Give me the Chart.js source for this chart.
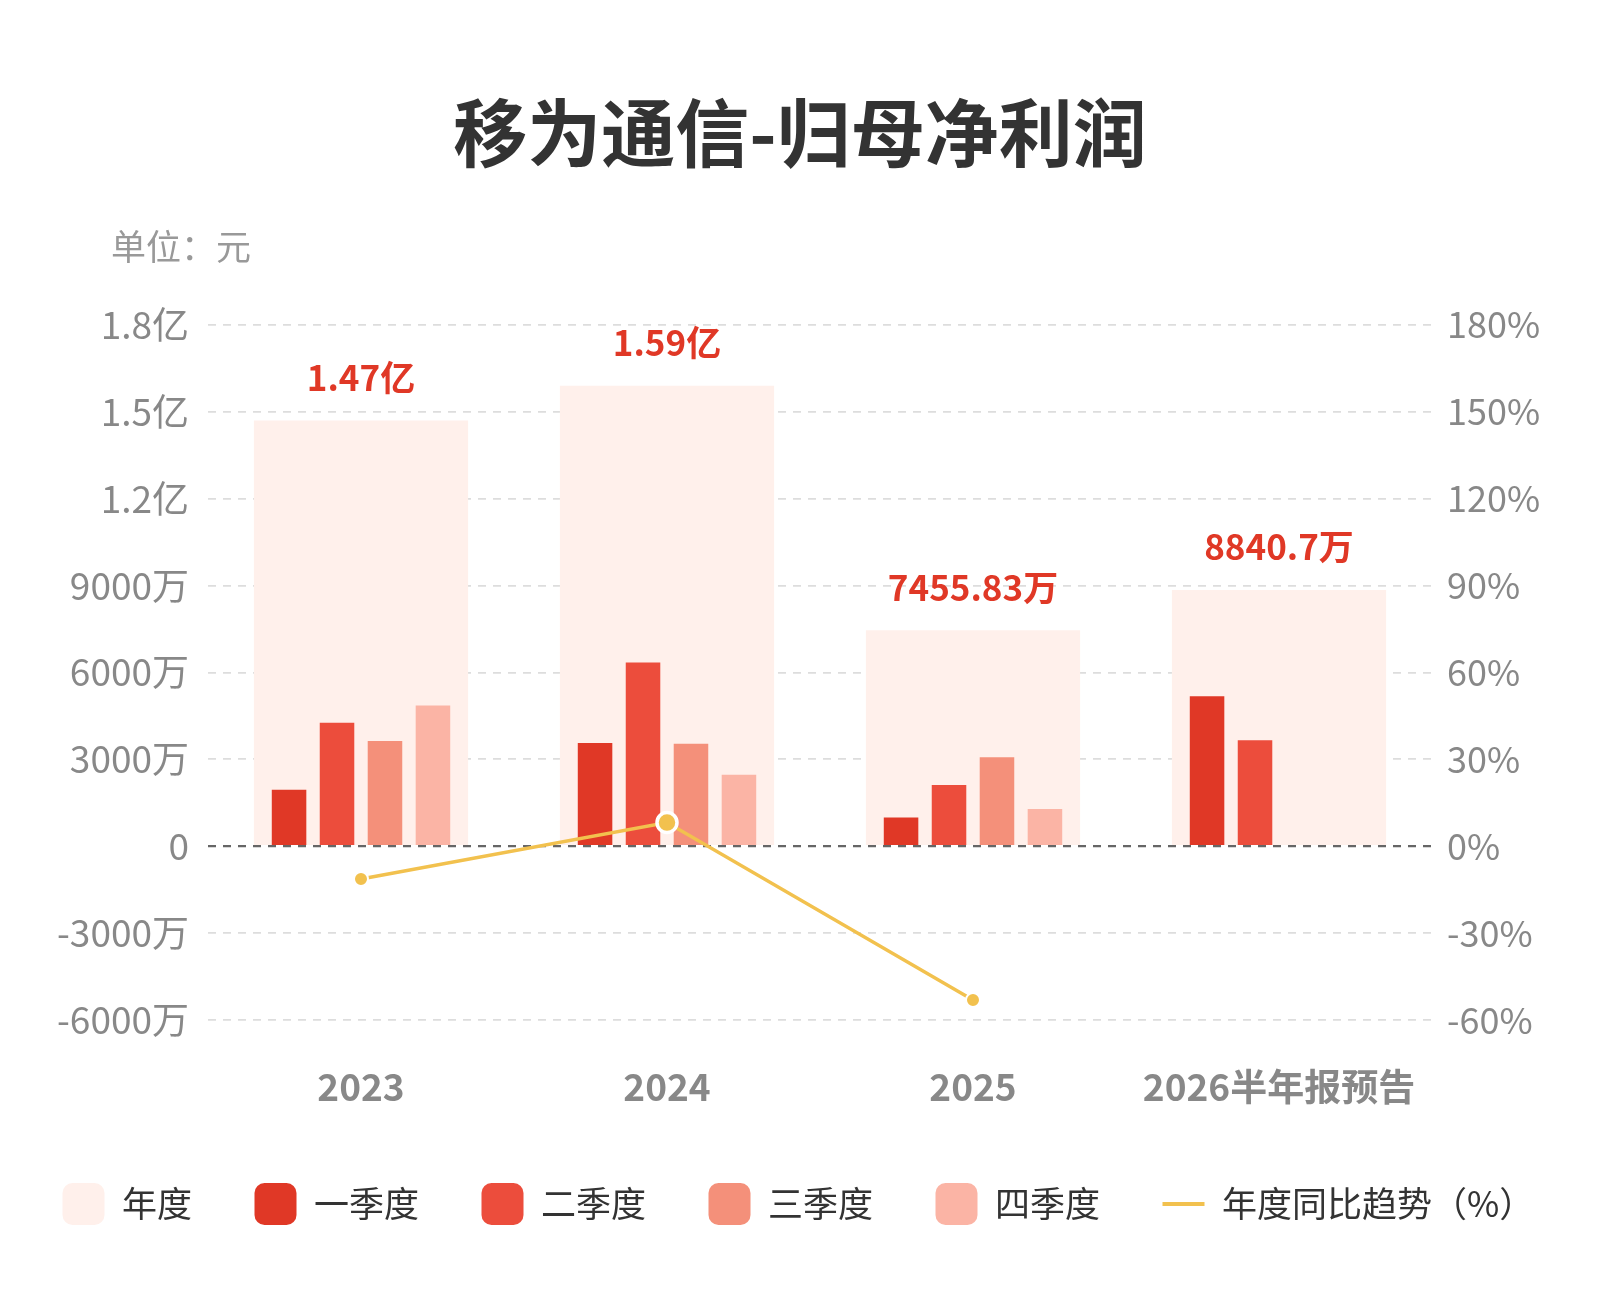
<!DOCTYPE html>
<html><head><meta charset="utf-8">
<script src="https://cdn.jsdelivr.net/npm/chart.js@4.4.1/dist/chart.umd.min.js"></script>
<style>html,body{margin:0;padding:0;background:#fff;} #wrap{width:1600px;height:1300px;position:relative;}</style>
</head><body><div id="wrap"><canvas id="c" width="1600" height="1300"></canvas></div>
<script>
// values in 万元
const categories = ['2023', '2024', '2025', '2026半年报预告'];
const annualLabels = ['1.47亿', '1.59亿', '7455.83万', '8840.7万'];
const annual = [14700, 15900, 7455.83, 8840.7];
const q1 = [1950, 3559, 990, 5180];
const q2 = [4260, 6338, 2110, 3660];
const q3 = [3630, 3534, 3070, null];
const q4 = [4860, 2469, 1286, null];
const yoy = [-11.3, 8.16, -53.1, null];
const seriesNames = ['年度', '一季度', '二季度', '三季度', '四季度', '年度同比趋势（%）'];
const leftMin = -6000, leftMax = 18000, leftStep = 3000;
const rightMin = -60, rightMax = 180, rightStep = 30;

const CJK = '"Noto Sans CJK SC", sans-serif';
const NUM = '"Noto Sans CJK SC", sans-serif';
const LINE_COLOR = '#F2C14E';

function fmtLeft(v) {
  if (v === 0) return '0';
  if (Math.abs(v) >= 10000) return (v / 10000).toFixed(1) + '亿';
  return v + '万';
}

const extras = {
  id: 'extras',
  afterDraw(chart) {
    const ctx = chart.ctx;
    ctx.save();
    ctx.font = '35px ' + CJK;
    ctx.fillStyle = '#999';
    ctx.textAlign = 'left';
    ctx.textBaseline = 'middle';
    ctx.fillText('单位：元', 111, 247);
    const meta = chart.getDatasetMeta(0);
    ctx.font = 'bold 35px ' + NUM;
    ctx.fillStyle = '#E03826';
    ctx.textAlign = 'center';
    meta.data.forEach((el, i) => {
      ctx.fillText(annualLabels[i], el.x, el.y - 43);
    });
    const lg = chart.legend;
    if (lg && lg.legendHitBoxes && lg.legendHitBoxes.length) {
      const hb = lg.legendHitBoxes[lg.legendHitBoxes.length - 1];
      ctx.strokeStyle = LINE_COLOR;
      ctx.lineWidth = 4;
      ctx.beginPath();
      ctx.moveTo(hb.left, hb.top + hb.height / 2);
      ctx.lineTo(hb.left + 42, hb.top + hb.height / 2);
      ctx.stroke();
    }
    ctx.restore();
  }
};

const qCommon = { xAxisID: 'x', yAxisID: 'y', categoryPercentage: 0.627, barPercentage: 0.72, order: 1, borderWidth: 0 };

new Chart(document.getElementById('c'), {
  type: 'bar',
  data: {
    labels: categories,
    datasets: [
      { label: seriesNames[0], data: annual, backgroundColor: '#FFF0EB', xAxisID: 'x', yAxisID: 'y', grouped: false, categoryPercentage: 1, barPercentage: 0.7, order: 3, borderWidth: 0 },
      Object.assign({ label: seriesNames[1], data: q1, backgroundColor: '#E03826' }, qCommon),
      Object.assign({ label: seriesNames[2], data: q2, backgroundColor: '#EC4D3C' }, qCommon),
      Object.assign({ label: seriesNames[3], data: q3, backgroundColor: '#F4907A' }, qCommon),
      Object.assign({ label: seriesNames[4], data: q4, backgroundColor: '#FBB4A5' }, qCommon),
      { type: 'line', label: seriesNames[5], data: yoy, xAxisID: 'x', yAxisID: 'y2', order: 0,
        borderColor: LINE_COLOR, backgroundColor: LINE_COLOR, borderWidth: 3.5, tension: 0,
        pointRadius: [7, 10, 7, 0], pointHoverRadius: [7, 10, 7, 0],
        pointBackgroundColor: LINE_COLOR, pointBorderColor: '#fff', pointBorderWidth: [2, 3.5, 2, 0], spanGaps: false }
    ]
  },
  options: {
    responsive: false,
    devicePixelRatio: 1,
    animation: false,
    events: [],
    layout: { padding: { top: 0, left: 0, right: 0, bottom: 65 } },
    plugins: {
      tooltip: { enabled: false },
      title: {
        display: true, text: '移为通信-归母净利润', color: '#333',
        font: { size: 74, weight: 'bold', family: CJK },
        padding: { top: 88, bottom: 148 }
      },
      legend: {
        display: true, position: 'bottom', align: 'start',
        labels: {
          font: { size: 35, family: CJK }, color: '#333',
          boxWidth: 42, boxHeight: 42, padding: 62.5,
          useBorderRadius: true, borderRadius: 10,
          sort: (a, b) => a.datasetIndex - b.datasetIndex,
          generateLabels(chart) {
            const items = Chart.defaults.plugins.legend.labels.generateLabels(chart);
            items.forEach(it => {
              it.lineWidth = 0;
              it.strokeStyle = 'rgba(0,0,0,0)';
              if (it.datasetIndex === 5) { it.fillStyle = 'rgba(0,0,0,0)'; }
            });
            return items;
          }
        }
      }
    },
    scales: {
      x: {
        type: 'category', offset: true,
        grid: { display: false }, border: { display: false },
        ticks: { font: { size: 37, weight: 'bold', family: NUM }, color: '#888', padding: 37, maxRotation: 0, autoSkip: false },
        afterFit(s) { s.height = 100.5; }
      },
      y: {
        min: leftMin, max: leftMax,
        grid: {
          color: c => (c.tick && c.tick.value === 0) ? '#666' : '#DDDDDD',
          lineWidth: c => (c.tick && c.tick.value === 0) ? 2.2 : 1.8,
          drawTicks: false
        },
        border: { display: false, dash: [8, 7] },
        ticks: { stepSize: leftStep, font: { size: 37, family: NUM }, color: '#888', padding: 19, callback: v => fmtLeft(v) },
        afterFit(s) { s.width = 208; }
      },
      y2: {
        position: 'right', min: rightMin, max: rightMax,
        grid: { drawOnChartArea: false, drawTicks: false }, border: { display: false },
        ticks: { stepSize: rightStep, font: { size: 36, family: NUM }, color: '#888', padding: 15, callback: v => v + '%' },
        afterFit(s) { s.width = 168; }
      }
    }
  },
  plugins: [extras]
});
</script></body></html>
